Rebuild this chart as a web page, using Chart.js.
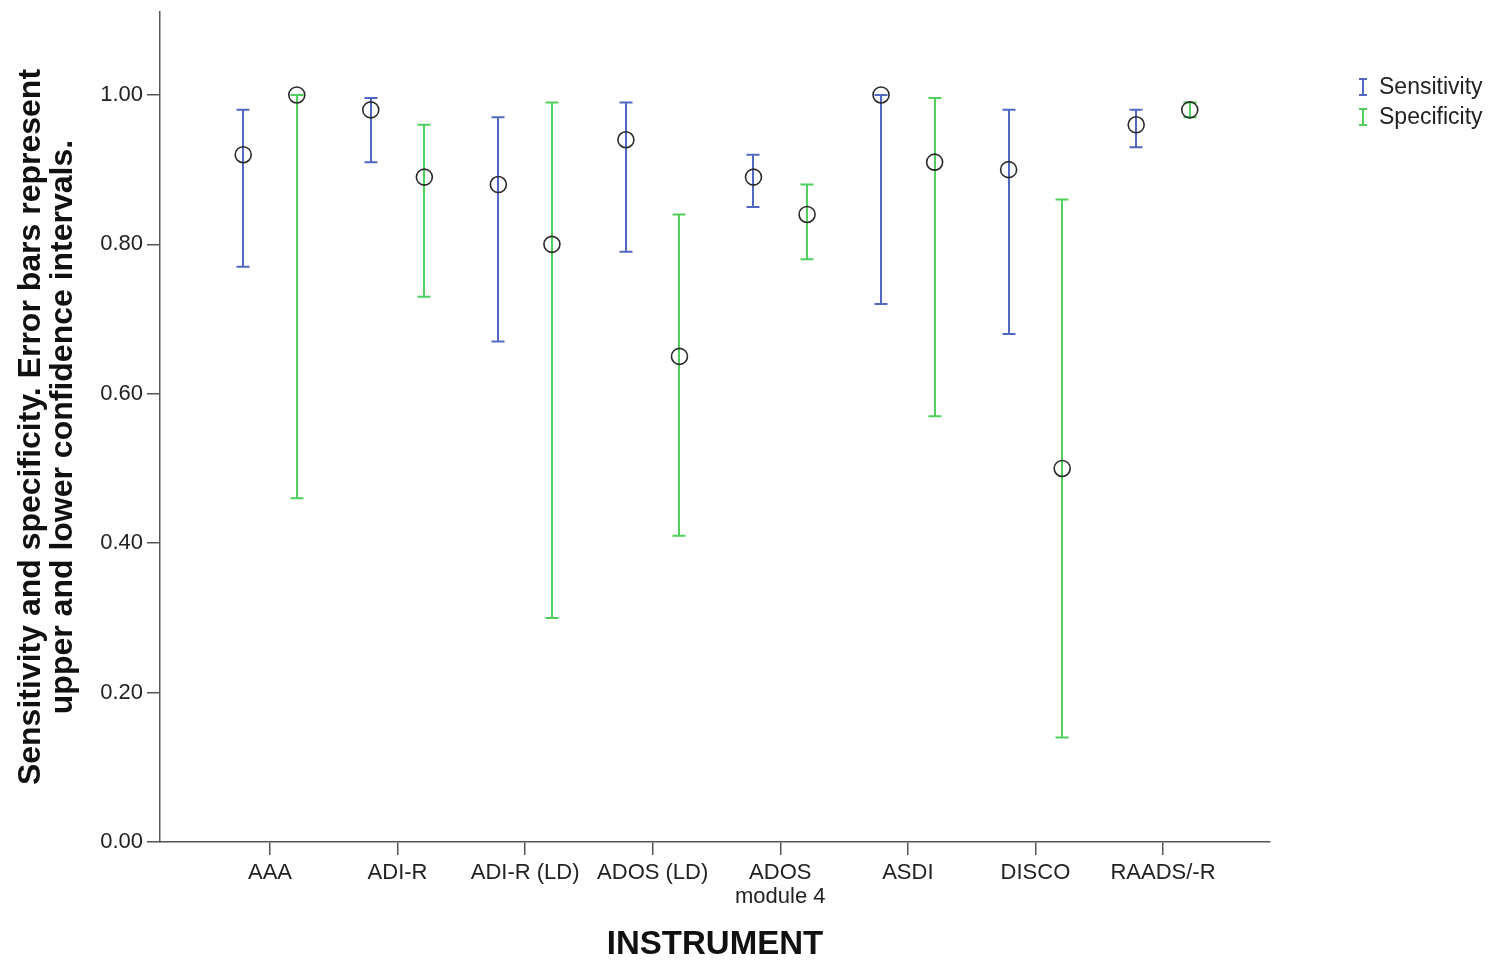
<!DOCTYPE html>
<html>
<head>
<meta charset="utf-8">
<script src="https://cdn.jsdelivr.net/npm/chart.js@4"></script>
<style>
  html, body { margin: 0; padding: 0; background: #fff; }
  #wrap { width: 1497px; height: 963px; position: relative; }
</style>
</head>
<body>
<div id="wrap"><canvas id="c" width="1497" height="963"></canvas></div>
<script>
// ---- Data ----
const categories = ['AAA', 'ADI-R', 'ADI-R (LD)', 'ADOS (LD)', ['ADOS', 'module 4'], 'ASDI', 'DISCO', 'RAADS/-R'];
const sensitivity = [0.92, 0.98, 0.88, 0.94, 0.89, 1.00, 0.90, 0.96];
const sensLower   = [0.77, 0.91, 0.67, 0.79, 0.85, 0.72, 0.68, 0.93];
const sensUpper   = [0.98, 0.996, 0.97, 0.99, 0.92, 1.00, 0.98, 0.98];
const specificity = [1.00, 0.89, 0.80, 0.65, 0.84, 0.91, 0.50, 0.98];
const specLower   = [0.46, 0.73, 0.30, 0.41, 0.78, 0.57, 0.14, 0.97];
const specUpper   = [1.00, 0.96, 0.99, 0.84, 0.88, 0.996, 0.86, 0.99];
const yTicks = [0, 0.2, 0.4, 0.6, 0.8, 1.0];
const seriesNames = ['Sensitivity', 'Specificity'];

const BLUE = '#5068c4';
const GREEN = '#4fd05c';
const OFFSET = 0.21;

const sensPoints = sensitivity.map((v, i) => ({ x: i + 1 - OFFSET, y: v, lo: sensLower[i], hi: sensUpper[i] }));
const specPoints = specificity.map((v, i) => ({ x: i + 1 + OFFSET, y: v, lo: specLower[i], hi: specUpper[i] }));

const errorBarPlugin = {
  id: 'errorBars',
  beforeDatasetsDraw(chart) {
    const { ctx, scales: { x, y } } = chart;
    ctx.save();
    chart.data.datasets.forEach(ds => {
      ctx.strokeStyle = ds.barColor;
      ctx.lineWidth = 2;
      ds.data.forEach(p => {
        const px = Math.round(x.getPixelForValue(p.x));
        const yLo = y.getPixelForValue(p.lo);
        const yHi = y.getPixelForValue(p.hi);
        ctx.beginPath();
        ctx.moveTo(px, yLo); ctx.lineTo(px, yHi);
        ctx.moveTo(px - 6.5, yLo); ctx.lineTo(px + 6.5, yLo);
        ctx.moveTo(px - 6.5, yHi); ctx.lineTo(px + 6.5, yHi);
        ctx.stroke();
      });
    });
    ctx.restore();
  },
  afterDraw(chart) {
    const { ctx } = chart;
    ctx.save();
    const items = [[seriesNames[0], BLUE, 87], [seriesNames[1], GREEN, 117]];
    ctx.font = '23px "Liberation Sans", Arial, sans-serif';
    ctx.textBaseline = 'middle';
    ctx.textAlign = 'left';
    items.forEach(([label, col, yc]) => {
      ctx.strokeStyle = col;
      ctx.lineWidth = 2;
      const xc = 1363;
      ctx.beginPath();
      ctx.moveTo(xc, yc - 8); ctx.lineTo(xc, yc + 8);
      ctx.moveTo(xc - 4, yc - 8); ctx.lineTo(xc + 4, yc - 8);
      ctx.moveTo(xc - 4, yc + 8); ctx.lineTo(xc + 4, yc + 8);
      ctx.stroke();
      ctx.fillStyle = '#222';
      ctx.fillText(label, 1379, yc + 1);
    });
    ctx.restore();
  }
};

new Chart(document.getElementById('c'), {
  type: 'scatter',
  data: {
    datasets: [
      {
        label: seriesNames[0], data: sensPoints, barColor: BLUE,
        pointRadius: 8, pointHoverRadius: 8, pointBorderWidth: 1.6,
        pointBorderColor: '#2a2a2a', pointBackgroundColor: 'rgba(0,0,0,0)', showLine: false
      },
      {
        label: seriesNames[1], data: specPoints, barColor: GREEN,
        pointRadius: 8, pointHoverRadius: 8, pointBorderWidth: 1.6,
        pointBorderColor: '#2a2a2a', pointBackgroundColor: 'rgba(0,0,0,0)', showLine: false
      }
    ]
  },
  options: {
    responsive: false,
    animation: false,
    devicePixelRatio: 1,
    layout: { padding: { top: 12, right: 227, left: 0, bottom: 0 } },
    plugins: { legend: { display: false }, tooltip: { enabled: false } },
    scales: {
      x: {
        type: 'linear',
        min: 0.1377, max: 8.839,
        afterBuildTicks(scale) { scale.ticks = categories.map((c, i) => ({ value: i + 1 })); },
        afterFit(scale) { scale.height = 121; scale.paddingLeft = 0; scale.paddingRight = 0; },
        grid: { drawOnChartArea: false, drawTicks: true, tickLength: 13, color: '#555', lineWidth: 1.5 },
        border: { display: true, color: '#555', width: 1.5 },
        ticks: {
          autoSkip: false, maxRotation: 0, minRotation: 0, padding: 6,
          color: '#222',
          font: { family: '"Liberation Sans", Arial, sans-serif', size: 22, lineHeight: 1.1 },
          callback: (v, i) => categories[i]
        },
        title: {
          display: true, text: 'INSTRUMENT', color: '#111',
          font: { family: '"Liberation Sans", Arial, sans-serif', size: 33, weight: 'bold', lineHeight: 1.1 },
          padding: { top: 0, bottom: 0 }
        }
      },
      y: {
        type: 'linear',
        min: 0, max: 1.111,
        afterBuildTicks(scale) { scale.ticks = yTicks.map(v => ({ value: v })); },
        afterFit(scale) { scale.width = 160; scale.paddingTop = 0; scale.paddingBottom = 0; },
        grid: { drawOnChartArea: false, drawTicks: true, tickLength: 13, color: '#555', lineWidth: 1.5 },
        border: { display: true, color: '#555', width: 1.5 },
        ticks: {
          padding: 4, color: '#222',
          font: { family: '"Liberation Sans", Arial, sans-serif', size: 22 },
          callback: v => Number(v).toFixed(2)
        },
        title: {
          display: true,
          text: ['Sensitivity and specificity. Error bars represent', 'upper and lower confidence intervals.'],
          color: '#111',
          font: { family: '"Liberation Sans", Arial, sans-serif', size: 32, weight: 'bold', lineHeight: 1.0 },
          padding: { top: 15, bottom: 0 }
        }
      }
    }
  },
  plugins: [errorBarPlugin]
});
</script>
</body>
</html>
